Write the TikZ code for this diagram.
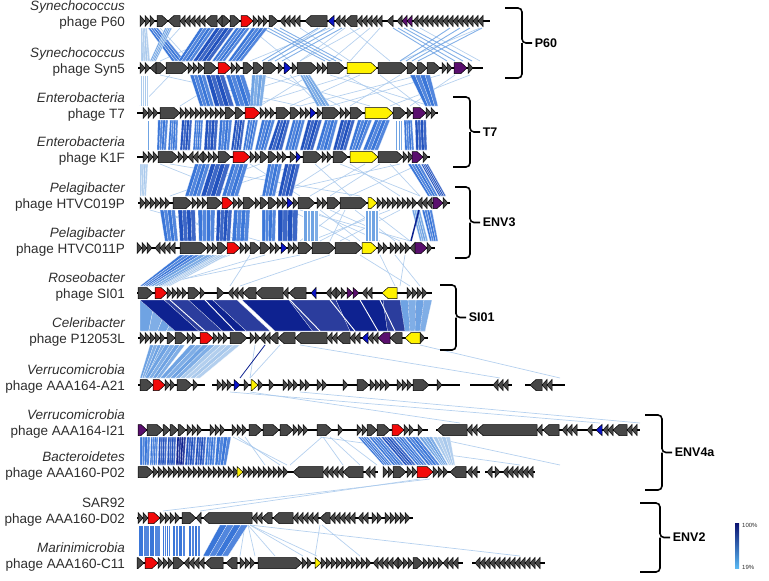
\documentclass[tikz,border=0pt]{standalone}
\usepackage{fontspec}
\setmainfont{Liberation Sans}
\usetikzlibrary{arrows.meta}
\definecolor{txt}{HTML}{2E2E2E}
\definecolor{gy}{HTML}{474747}
\definecolor{rd}{HTML}{F20A0A}
\definecolor{ye}{HTML}{FFF200}
\definecolor{bu}{HTML}{0A14C8}
\definecolor{vi}{HTML}{5A0F6E}
\definecolor{lkA}{HTML}{A9C9EC}
\definecolor{lkB}{HTML}{6FA3E3}
\definecolor{lkC}{HTML}{3A76D8}
\definecolor{lkD}{HTML}{2252BE}
\definecolor{lkE}{HTML}{0E2290}
\definecolor{cbtop}{HTML}{0A1270}
\definecolor{cbbot}{HTML}{5AB8F2}
\tikzset{
  gene/.style={draw=black,line width=0.5pt,line join=miter},
  bb/.style={draw=black,line width=1.1pt},
  band/.style={draw=white,line width=0.15pt},
  thn/.style={draw=lkA,line width=0.7pt,opacity=0.85},
  thm/.style={draw=lkB,line width=0.9pt,opacity=0.85},
  thd/.style={draw=lkE,line width=0.8pt},
  wht/.style={draw=white,line width=0.9pt},
  host/.style={anchor=base east,inner sep=0pt,text=txt,font=\fontsize{13.5}{16}\selectfont\itshape},
  phg/.style={anchor=base east,inner sep=0pt,text=txt,font=\fontsize{13.5}{16}\selectfont},
  brk/.style={draw=black,line width=1.6pt,rounded corners=4pt},
  clab/.style={anchor=west,inner sep=2pt,text=black,font=\fontsize{12.5}{15}\selectfont\bfseries},
  cbl/.style={anchor=west,inner sep=1pt,text=txt,font=\fontsize{6}{7}\selectfont},
}
% one gene arrow: x1, x2, track y, direction (1/-1), fill
\newcommand\genearrow[5]{%
  \pgfmathsetmacro\gxa{#1}\pgfmathsetmacro\gxb{#2}%
  \pgfmathsetmacro\ghl{min(6,\gxb-\gxa)}%
  \ifnum#4>0
    \pgfmathsetmacro\gxn{\gxb-\ghl}%
    \filldraw[gene,fill=#5] (\gxa,#3-5.5) -- (\gxn,#3-5.5) -- (\gxb,#3) -- (\gxn,#3+5.5) -- (\gxa,#3+5.5) -- cycle;
  \else
    \pgfmathsetmacro\gxn{\gxa+\ghl}%
    \filldraw[gene,fill=#5] (\gxb,#3-5.5) -- (\gxn,#3-5.5) -- (\gxa,#3) -- (\gxn,#3+5.5) -- (\gxb,#3+5.5) -- cycle;
  \fi}
% a run of small genes: start x, track y, count, direction
\newcommand\generun[4]{\foreach \k in {1,...,#3}{\genearrow{#1+5*\k-5}{#1+5*\k}{#2}{#4}{gy}}}
% similarity bands (cut in four strips) and single hits between two tracks
\newcommand\bands[3]{\foreach \ta/\tb/\ba/\bb/\lc in {#3}{
  \foreach \s in {0,1,2,3}{
    \pgfmathsetmacro\pa{\ta+\s*(\tb-\ta)/4}\pgfmathsetmacro\pb{\ta+(\s+1)*(\tb-\ta)/4}%
    \pgfmathsetmacro\qa{\ba+\s*(\bb-\ba)/4}\pgfmathsetmacro\qb{\ba+(\s+1)*(\bb-\ba)/4}%
    \pgfmathsetmacro\sh{int(100-12*mod(\s,2))}%
    \fill[band,fill=\lc!\sh!white] (\pa,#1) -- (\pb,#1) -- (\qb,#2) -- (\qa,#2) -- cycle;}}}
\newcommand\hits[3]{\foreach \ta/\ba in {#3}{\draw[thn] (\ta,#1) -- (\ba,#2);}}

\begin{document}
\begin{tikzpicture}[x=1pt,y=-1pt]
  \useasboundingbox (0,0) rectangle (769,581);

  % links
  \hits{28}{61}{160/190, 180/150, 330/250, 345/300, 350/390, 300/350, 320/270, 258/235, 360/300, 370/330, 250/290, 235/160, 480/400, 420/480, 380/350}
  \foreach \ta/\ba in {262/325, 268/330, 274/336, 280/342, 318/262, 326/268, 334/275, 342/282, 393/447, 398/455, 404/463, 410/472, 450/400, 460/406, 470/412, 482/418}{\draw[thm] (\ta,28) -- (\ba,61);}
  \bands{28}{61}{141/147/141/150/lkA, 148/158/172/185/lkC, 165/172/150/156/lkB, 200/215/178/192/lkC, 216/234/193/210/lkD, 236/250/212/225/lkC, 252/268/228/242/lkC}
  \hits{75}{106}{160/300, 170/140, 260/370, 300/200, 350/250, 380/420, 440/330, 470/390, 330/430, 290/320, 400/350, 420/300, 345/400, 230/180, 280/340, 360/290, 455/410, 310/260}
  \bands{75}{106}{140/148/140/148/lkA, 190/205/200/214/lkC, 206/224/215/234/lkD, 226/244/236/254/lkC, 252/266/250/262/lkB, 300/310/317/330/lkB, 410/430/425/438/lkC}
  \bands{120}{150}{138/141/138/141/lkA, 145/150/145/150/lkB, 158/168/157/166/lkC, 170/178/168/177/lkC, 182/192/180/190/lkD, 195/203/193/201/lkC, 206/218/204/216/lkD, 220/232/218/229/lkC, 235/245/231/241/lkD, 248/258/243/252/lkC, 262/275/255/266/lkC, 278/290/268/282/lkD, 293/305/285/297/lkC, 308/322/300/313/lkD, 325/338/316/330/lkC, 341/355/333/346/lkD, 358/372/349/360/lkC, 375/390/363/378/lkC, 395/402/395/402/lkB, 404/412/405/414/lkC, 415/426/416/427/lkD}
  \hits{164}{196}{160/240, 250/300, 300/200, 330/280, 350/400, 380/330, 170/360, 400/260, 315/350, 365/310, 260/170, 390/420, 340/420, 420/350}
  \bands{164}{196}{140/148/140/146/lkA, 195/210/185/200/lkC, 211/230/201/220/lkD, 232/248/222/238/lkC, 268/282/262/275/lkC, 285/300/278/292/lkD, 408/420/428/438/lkC, 421/428/439/446/lkD}
  \hits{210}{241}{300/410, 320/360, 340/300, 380/320, 400/340, 150/260, 160/240, 310/380, 355/395, 390/310, 330/400, 290/350, 345/330, 370/410}
  \bands{210}{241}{160/175/165/178/lkC, 178/195/180/196/lkD, 198/215/199/214/lkC, 217/232/216/230/lkD, 234/250/232/248/lkC, 262/276/262/275/lkC, 278/298/278/297/lkD, 303/318/303/318/lkB, 365/378/365/378/lkB, 412/420/420/428/lkB, 422/432/430/438/lkC}
  \draw[thd,line width=1.5pt] (419,210) -- (411,241);
  \hits{255}{286}{250/230, 300/150, 330/240, 360/410, 380/395, 395/420, 405/400, 230/145, 265/160}
  \bands{255}{286}{180/200/140/150/lkC, 200/225/150/165/lkB, 215/228/160/170/lkA}
  \bands{300}{331}{140/200/140/175/lkB, 140/237/175/270/lkE, 242/430/275/425/lkE, 400/432/405/425/lkB}
  \foreach \ta/\ba in {170/205, 205/235, 290/320, 330/355, 360/378, 380/395}{\draw[wht] (\ta,300) -- (\ba,331);}
  \hits{345}{378}{255/250, 300/500, 420/560, 280/250}
  \draw[thd] (265,345) -- (240,378);
  \bands{345}{378}{150/165/140/148/lkB, 165/185/145/160/lkB, 190/215/160/180/lkB, 215/240/180/200/lkA}
  \hits{392}{423}{250/460, 230/600, 300/640}
  \hits{437}{465}{233/287, 238/280, 322/290, 323/343, 330/360, 340/377, 245/265, 430/560, 320/520}
  \bands{437}{465}{140/150/140/149/lkC, 151/158/150/157/lkC, 159/167/158/166/lkD, 168/176/167/175/lkD, 177/186/176/184/lkE, 187/196/185/194/lkD, 197/206/195/204/lkD, 207/216/205/214/lkC, 217/231/215/226/lkC, 358/368/383/392/lkC, 369/380/393/404/lkC, 381/392/405/416/lkD, 393/404/417/427/lkC, 405/418/428/440/lkC, 419/432/441/448/lkB, 433/450/449/455/lkA}
  \hits{479}{511}{430/163, 420/200}
  \hits{525}{556}{248/255, 248/275, 250/303, 250/317, 320/315, 322/360, 250/520, 245/240}
  \bands{525}{556}{138/160/138/160/lkC, 162/170/162/170/lkC, 172/185/172/185/lkC, 188/200/188/200/lkC, 220/248/203/228/lkC}

  % P60
  \draw[bb] (140,21) -- (490,21);
  \generun{140}{21}{3}{1} \generun{180}{21}{5}{-1} \generun{253}{21}{3}{1}
  \generun{280}{21}{4}{-1} \generun{335}{21}{2}{-1} \generun{357}{21}{5}{-1} \generun{413}{21}{14}{-1}
  \foreach \ga/\gb/\gd/\gc in {157/168/1/gy, 168/180/-1/gy, 205/217/-1/gy, 217/222/-1/gy, 222/230/1/gy, 230/240/1/gy, 241/253/1/rd, 269/278/1/gy, 305/327/-1/gy, 328/334/-1/bu, 345/357/-1/gy, 387/393/-1/gy, 397/402/-1/gy, 402/407/-1/vi, 407/412/-1/vi}{\genearrow{\ga}{\gb}{21}{\gd}{\gc}}
  % Syn5
  \draw[bb] (138,68) -- (483,68);
  \generun{140}{68}{2}{1} \generun{188}{68}{2}{1} \generun{231}{68}{2}{1} \generun{278}{68}{1}{1}
  \generun{292}{68}{1}{1} \generun{317}{68}{2}{1} \generun{442}{68}{2}{1} \generun{468}{68}{1}{1}
  \foreach \ga/\gb/\gd/\gc in {150/156/-1/gy, 156/166/1/gy, 166/188/1/gy, 198/204/1/gy, 204/217/1/gy, 218/231/1/rd, 243/253/1/gy, 253/263/1/gy, 263/277/1/gy, 284/291/1/bu, 297/317/1/gy, 327/345/1/gy, 347/377/1/ye, 378/407/1/gy, 407/417/1/gy, 417/427/1/gy, 427/440/1/gy, 454/467/1/vi}{\genearrow{\ga}{\gb}{68}{\gd}{\gc}}
  % T7
  \draw[bb] (137,113) -- (438,113);
  \generun{143}{113}{3}{1} \generun{180}{113}{3}{1} \generun{195}{113}{6}{1} \generun{260}{113}{3}{1}
  \generun{300}{113}{2}{1} \generun{317}{113}{1}{1} \generun{340}{113}{2}{1} \generun{407}{113}{1}{1} \generun{426}{113}{2}{1}
  \foreach \ga/\gb/\gd/\gc in {160/180/1/gy, 225/235/1/gy, 235/244/1/gy, 245/260/1/rd, 276/290/1/gy, 290/300/1/gy, 310/316/1/bu, 322/340/1/gy, 350/363/1/gy, 365/393/1/ye, 393/406/1/gy, 413/426/1/vi}{\genearrow{\ga}{\gb}{113}{\gd}{\gc}}
  % K1F
  \draw[bb] (137,157) -- (430,157);
  \generun{143}{157}{3}{1} \generun{178}{157}{2}{1} \generun{188}{157}{3}{-1} \generun{203}{157}{3}{1}
  \generun{250}{157}{2}{1} \generun{277}{157}{2}{1} \generun{322}{157}{2}{1} \generun{403}{157}{2}{1} \generun{423}{157}{1}{1}
  \foreach \ga/\gb/\gd/\gc in {158/178/1/gy, 218/231/1/gy, 233/250/1/rd, 260/268/1/gy, 268/277/1/gy, 290/296/1/gy, 296/301/1/bu, 303/322/1/gy, 333/348/1/gy, 350/378/1/ye, 378/403/1/gy, 412/423/1/vi}{\genearrow{\ga}{\gb}{157}{\gd}{\gc}}
  % HTVC019P
  \draw[bb] (138,203) -- (450,203);
  \generun{140}{203}{4}{1} \generun{160}{203}{2}{1} \generun{192}{203}{3}{1} \generun{233}{203}{2}{1}
  \generun{255}{203}{1}{1} \generun{277}{203}{2}{1} \generun{293}{203}{1}{1} \generun{317}{203}{2}{1}
  \generun{377}{203}{8}{1} \generun{417}{203}{3}{-1} \generun{443}{203}{1}{1}
  \foreach \ga/\gb/\gd/\gc in {173/192/1/gy, 207/222/1/gy, 222/233/1/rd, 243/255/1/gy, 260/268/1/gy, 268/277/1/gy, 287/293/1/bu, 298/315/1/gy, 327/340/1/gy, 340/367/1/gy, 368/377/1/ye, 433/443/1/vi}{\genearrow{\ga}{\gb}{203}{\gd}{\gc}}
  % HTVC011P
  \draw[bb] (137,248) -- (435,248);
  \generun{137}{248}{3}{1} \generun{155}{248}{4}{-1} \generun{207}{248}{2}{1} \generun{240}{248}{2}{1}
  \generun{270}{248}{2}{1} \generun{288}{248}{2}{1} \generun{378}{248}{2}{1} \generun{390}{248}{4}{1}
  \generun{410}{248}{1}{-1} \generun{427}{248}{1}{1}
  \foreach \ga/\gb/\gd/\gc in {180/207/1/gy, 217/227/1/gy, 227/240/1/rd, 250/260/1/gy, 260/270/1/gy, 281/287/1/bu, 298/312/1/gy, 312/335/1/gy, 335/362/1/gy, 362/377/1/ye, 415/427/1/vi}{\genearrow{\ga}{\gb}{248}{\gd}{\gc}}
  % SI01
  \draw[bb] (137,293) -- (432,293);
  \generun{167}{293}{4}{1} \generun{200}{293}{1}{1} \generun{228}{293}{3}{-1} \generun{283}{293}{1}{-1}
  \generun{326}{293}{2}{-1} \generun{336}{293}{2}{1} \generun{362}{293}{2}{-1} \generun{407}{293}{4}{1}
  \foreach \ga/\gb/\gd/\gc in {138/153/1/gy, 155/167/1/rd, 188/200/1/gy, 217/224/1/gy, 243/256/-1/gy, 256/283/-1/gy, 289/306/-1/gy, 311/316/-1/bu, 347/353/1/vi, 353/359/1/vi, 382/397/-1/ye}{\genearrow{\ga}{\gb}{293}{\gd}{\gc}}
  % P12053L
  \draw[bb] (138,338) -- (428,338);
  \generun{140}{338}{5}{1} \generun{187}{338}{2}{1} \generun{213}{338}{3}{1} \generun{250}{338}{2}{1}
  \generun{260}{338}{2}{-1} \generun{327}{338}{2}{-1} \generun{350}{338}{2}{-1} \generun{368}{338}{2}{-1} \generun{420}{338}{1}{1}
  \foreach \ga/\gb/\gd/\gc in {167/175/1/gy, 175/187/1/gy, 200/213/1/rd, 230/247/1/gy, 270/278/-1/gy, 278/295/-1/gy, 295/327/-1/gy, 337/350/-1/gy, 362/368/-1/bu, 378/390/-1/vi, 390/402/-1/gy, 405/420/-1/ye}{\genearrow{\ga}{\gb}{338}{\gd}{\gc}}
  % AAA164-A21
  \draw[bb] (138,385) -- (205,385) (212,385) -- (460,385) (470,385) -- (512,385) (525,385) -- (565,385);
  \generun{165}{385}{2}{1} \generun{193}{385}{1}{1} \generun{217}{385}{3}{1} \generun{244}{385}{1}{1}
  \generun{258}{385}{1}{1} \generun{269}{385}{1}{1} \generun{283}{385}{3}{1} \generun{300}{385}{2}{1}
  \generun{317}{385}{2}{1} \generun{343}{385}{1}{1} \generun{370}{385}{4}{1} \generun{397}{385}{3}{1}
  \generun{437}{385}{1}{1} \generun{493}{385}{3}{-1} \generun{542}{385}{2}{-1}
  \foreach \ga/\gb/\gd/\gc in {140/153/1/gy, 153/165/1/rd, 177/192/1/gy, 234/240/1/bu, 251/258/1/ye, 357/369/1/gy, 413/429/1/gy, 530/542/-1/gy}{\genearrow{\ga}{\gb}{385}{\gd}{\gc}}
  % AAA164-I21
  \draw[bb] (138,430) -- (428,430) (436,430) -- (640,430);
  \generun{187}{430}{3}{1} \generun{210}{430}{3}{1} \generun{232}{430}{3}{1} \generun{293}{430}{3}{1}
  \generun{338}{430}{1}{1} \generun{357}{430}{2}{1} \generun{404}{430}{2}{1} \generun{418}{430}{1}{1}
  \generun{467}{430}{2}{-1} \generun{537}{430}{1}{-1} \generun{562}{430}{3}{-1} \generun{587}{430}{1}{-1}
  \generun{603}{430}{2}{-1} \generun{627}{430}{2}{-1}
  \foreach \ga/\gb/\gd/\gc in {138/147/1/vi, 147/163/1/gy, 163/170/1/gy, 170/178/1/gy, 178/186/1/gy, 249/262/1/gy, 263/279/1/gy, 280/293/1/gy, 317/332/1/gy, 367/377/1/gy, 377/390/1/gy, 392/404/1/rd, 437/467/-1/gy, 477/537/-1/gy, 543/559/-1/gy, 596/602/-1/bu, 613/627/-1/gy}{\genearrow{\ga}{\gb}{430}{\gd}{\gc}}
  % AAA160-P02
  \draw[bb] (138,472) -- (378,472) (383,472) -- (480,472) (485,472) -- (535,472);
  \generun{153}{472}{17}{1} \generun{243}{472}{9}{1} \generun{323}{472}{4}{-1} \generun{365}{472}{2}{-1}
  \generun{383}{472}{2}{1} \generun{407}{472}{2}{1} \generun{433}{472}{3}{1} \generun{467}{472}{2}{-1}
  \generun{487}{472}{1}{-1} \generun{495}{472}{1}{1} \generun{503}{472}{6}{-1}
  \foreach \ga/\gb/\gd/\gc in {138/153/1/gy, 237/243/1/ye, 293/323/-1/gy, 343/363/-1/gy, 393/406/1/gy, 417/433/1/rd, 450/466/-1/gy}{\genearrow{\ga}{\gb}{472}{\gd}{\gc}}
  % AAA160-D02
  \draw[bb] (137,518) -- (413,518);
  \generun{138}{518}{2}{1} \generun{160}{518}{4}{1} \generun{196}{518}{1}{-1} \generun{252}{518}{2}{-1}
  \generun{293}{518}{5}{-1} \generun{330}{518}{5}{-1} \generun{358}{518}{2}{-1} \generun{372}{518}{2}{1} \generun{385}{518}{5}{1}
  \foreach \ga/\gb/\gd/\gc in {148/160/1/rd, 182/196/1/gy, 203/252/-1/gy, 262/272/-1/gy, 273/293/-1/gy, 320/330/-1/gy}{\genearrow{\ga}{\gb}{518}{\gd}{\gc}}
  % AAA160-C11
  \draw[bb] (137,563) -- (463,563) (472,563) -- (545,563);
  \generun{158}{563}{3}{1} \generun{184}{563}{4}{-1} \generun{240}{563}{3}{1} \generun{302}{563}{2}{1}
  \generun{321}{563}{10}{1} \generun{373}{563}{5}{-1} \generun{398}{563}{3}{1} \generun{423}{563}{4}{1}
  \generun{443}{563}{3}{-1} \generun{475}{563}{13}{-1}
  \foreach \ga/\gb/\gd/\gc in {137/144/1/gy, 145/158/1/rd, 173/184/1/gy, 205/223/-1/gy, 226/237/-1/gy, 258/302/1/gy, 315/321/1/ye, 413/423/1/gy}{\genearrow{\ga}{\gb}{563}{\gd}{\gc}}

  % names
  \foreach \ty/\host/\ph/\nm in {21/Synechococcus/P60/a, 68/Synechococcus/Syn5/b, 113/Enterobacteria/T7/c, 157/Enterobacteria/K1F/d, 203/Pelagibacter/HTVC019P/e, 248/Pelagibacter/HTVC011P/f, 293/Roseobacter/SI01/g, 338/Celeribacter/P12053L/h, 385/Verrucomicrobia/AAA164-A21/i, 430/Verrucomicrobia/AAA164-I21/j, 472/Bacteroidetes/AAA160-P02/k, 563/Marinimicrobia/AAA160-C11/m}{
    \node[host] (h\nm) at (125,\ty-11) {\host};
    \node[phg] (p\nm) at (125,\ty+5) {phage \ph};}
  \node[phg] (hl) at (125,507) {SAR92};
  \node[phg] (pl) at (125,523) {phage AAA160-D02};

  % clades
  \foreach \xa/\xb/\yt/\yb/\nm in {505/522/8/78/P60, 453/470/97/167/T7, 455/470/187/258/ENV3, 440/456/285/350/SI01, 645/662/415/490/ENV4a, 640/660/503/572/ENV2}{
    \pgfmathsetmacro\ym{(\yt+\yb)/2}
    \draw[brk] (\xa,\yt) -| (\xb,\ym) -- ++(10,0) node[clab] (c\nm) {\nm};
    \draw[brk] (\xa,\yb) -| (\xb,\ym);}

  % identity scale
  \shade[top color=cbtop,bottom color=cbbot] (735,523) rectangle (739,568);
  \node[cbl] (smax) at (741,525) {100\%};
  \node[cbl] (smin) at (741,567) {19\%};
\end{tikzpicture}
\end{document}
